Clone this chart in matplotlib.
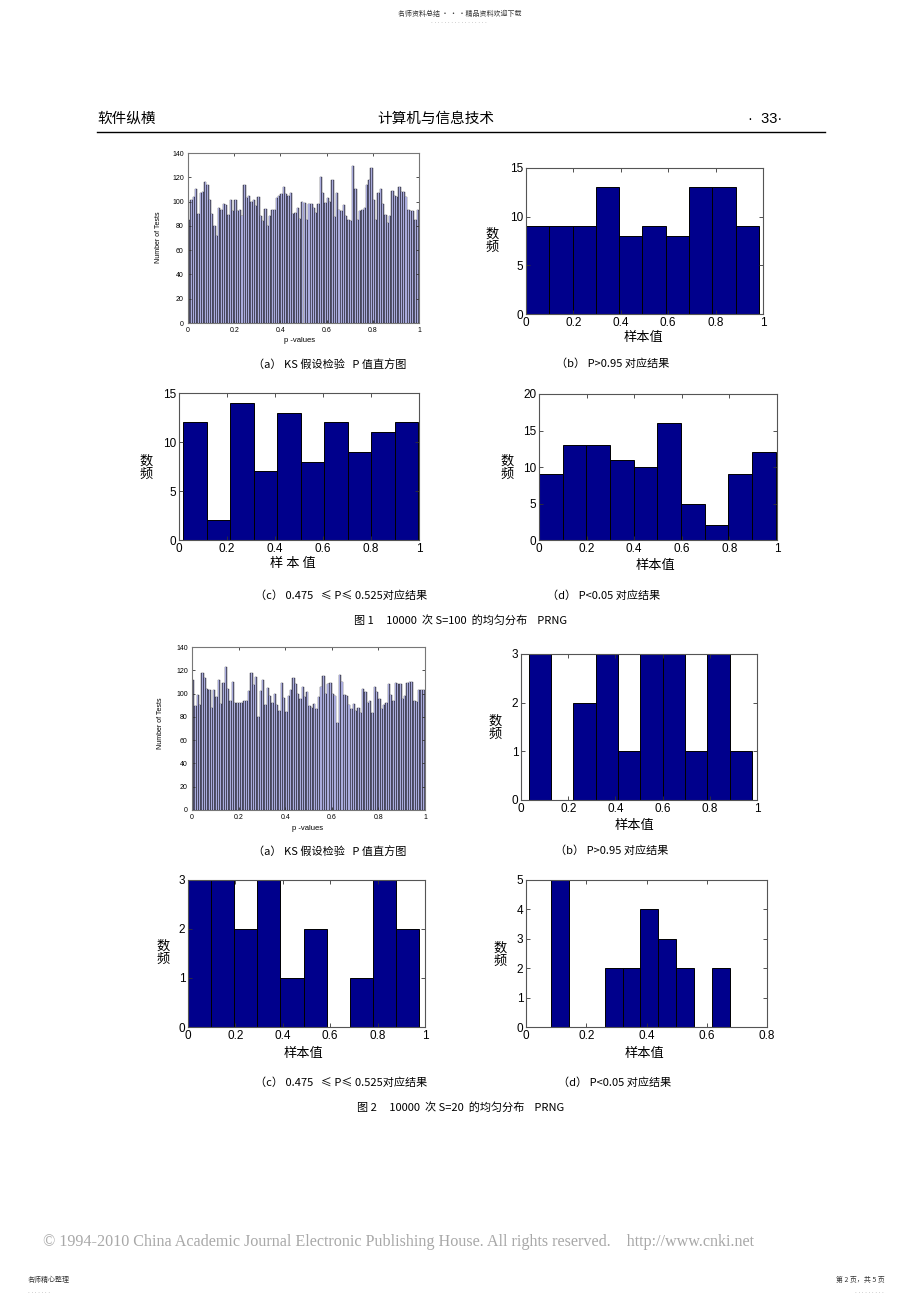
import numpy as np
import matplotlib
matplotlib.use("Agg")
import matplotlib.pyplot as plt

plt.rcParams['font.family'] = ['Liberation Sans', 'Noto Sans CJK SC', 'DejaVu Sans']

W, H = 920, 1304

# ---------------- data ----------------
# Fig.1 (a): 100-bin histogram of KS p-values (S=100)
pv1_counts = [85, 101, 104, 110, 90, 107, 108, 116, 114, 101,
              90, 80, 72, 95, 93, 98, 97, 89, 101, 92,
              101, 92, 93, 88, 114, 103, 105, 100, 101, 96,
              104, 88, 84, 94, 80, 88, 93, 93, 103, 105,
              106, 112, 106, 105, 107, 90, 91, 95, 86, 100,
              99, 85, 98, 98, 95, 91, 98, 120, 107, 99,
              103, 100, 118, 87, 107, 93, 92, 97, 88, 85,
              84, 129, 110, 85, 92, 93, 95, 114, 118, 128,
              101, 85, 107, 110, 98, 89, 82, 88, 109, 105,
              104, 112, 108, 108, 104, 93, 92, 92, 85, 93]
# Fig.2 (a): 100-bin histogram of KS p-values (S=20)
pv2_counts = [112, 89, 99, 90, 118, 113, 104, 103, 88, 103,
              97, 112, 91, 109, 123, 104, 94, 110, 92, 92,
              92, 92, 94, 94, 102, 118, 107, 114, 80, 102,
              112, 90, 105, 98, 92, 100, 90, 85, 109, 96,
              84, 98, 103, 113, 108, 100, 95, 106, 97, 101,
              89, 88, 91, 87, 97, 106, 115, 100, 108, 109,
              100, 98, 75, 116, 110, 99, 98, 90, 87, 91,
              85, 88, 83, 104, 101, 92, 94, 83, 106, 101,
              95, 87, 90, 92, 108, 99, 94, 109, 108, 108,
              95, 98, 109, 110, 110, 94, 93, 103, 103, 103]

# 10-bin histograms of sample values: counts and the sample range (min, max)
f1b_counts = [9, 9, 9, 13, 8, 9, 8, 13, 13, 9]
f1b_range = (0.0, 0.983)
f1c_counts = [12, 2, 14, 7, 13, 8, 12, 9, 11, 12]
f1c_range = (0.018, 0.996)
f1d_counts = [9, 13, 13, 11, 10, 16, 5, 2, 9, 12]
f1d_range = (0.0, 0.994)
f2b_counts = [3, 0, 2, 3, 1, 3, 3, 1, 3, 1]
f2b_range = (0.032, 0.979)
f2c_counts = [3, 3, 2, 3, 1, 2, 0, 1, 3, 2]
f2c_range = (0.0, 0.975)
f2d_counts = [5, 0, 0, 2, 2, 4, 3, 2, 0, 2]
f2d_range = (0.082, 0.678)

captions1 = ["（a） KS 假设检验   P 值直方图", "（b） P>0.95 对应结果",
             "（c） 0.475   ≤ P≤ 0.525对应结果", "（d） P<0.05 对应结果"]
captions2 = captions1
fig1_title = "图 1     10000  次 S=100  的均匀分布    PRNG"
fig2_title = "图 2     10000  次 S=20  的均匀分布    PRNG"

# ---------------- helpers ----------------
fig = plt.figure(figsize=(W / 100, H / 100), dpi=100)


def add_ax(l, t, r, b):
    return fig.add_axes([l / W, 1 - b / H, (r - l) / W, (b - t) / H])


def ftext(x, y, s, **kw):
    fig.text(x / W, 1 - y / H, s, **kw)


def style_axes(ax, lw=0.8, color='#555555', tsize=8.5, tlen=3):
    for sp in ax.spines.values():
        sp.set_linewidth(lw)
        sp.set_color(color)
    ax.tick_params(direction='in', top=True, right=True, length=tlen, width=0.6,
                   labelsize=tsize, pad=2, color='#333333')


def fine_hist(ax, counts):
    n = len(counts)
    edges = np.linspace(0, 1, n + 1)
    w = edges[1] - edges[0]
    ax.bar(edges[:-1], counts, width=w, align='edge', color='#62627e',
           edgecolor='#1e1e2c', linewidth=0.3)
    ax.bar(edges[:-1] + 0.15 * w, counts, width=0.45 * w, align='edge',
           color='#a9abdc', linewidth=0)
    ax.set_xlim(0, 1)
    ax.set_ylim(0, 140)
    ax.set_xticks(np.linspace(0, 1, 6))
    ax.set_xticklabels(['0', '0.2', '0.4', '0.6', '0.8', '1'])
    ax.set_yticks(range(0, 141, 20))
    style_axes(ax, lw=0.8, color='#777777', tsize=5, tlen=2)
    ax.tick_params(pad=3)


def coarse_hist(ax, counts, rng, ylim, yticks, xlim=(0, 1), xticks=None, xlabels=None):
    edges = np.linspace(rng[0], rng[1], len(counts) + 1)
    ax.bar(edges[:-1], counts, width=np.diff(edges), align='edge',
           color='#00008c', edgecolor='black', linewidth=0.7)
    ax.set_xlim(*xlim)
    ax.set_ylim(*ylim)
    if xticks is None:
        xticks = np.linspace(0, 1, 6)
        xlabels = ['0', '0.2', '0.4', '0.6', '0.8', '1']
    ax.set_xticks(xticks)
    ax.set_xticklabels(xlabels)
    ax.set_yticks(yticks)
    style_axes(ax)


cjk = ['Noto Sans CJK SC', 'DejaVu Sans']

# ---------------- header ----------------
ftext(460, 14, "名师资料总结 · · ·精品资料欢迎下载", ha='center', va='center',
      fontsize=5, family=cjk, color='#333333')
ftext(460, 23, "· " * 17, ha='center', va='center', fontsize=4, color='#777777')
ftext(97, 119, "软件纵横", ha='left', va='center', fontsize=10.5, family=cjk)
ftext(436, 119, "计算机与信息技术", ha='center', va='center', fontsize=10.5, family=cjk)
ftext(782, 119, "·  33·", ha='right', va='center', fontsize=10.5)
fig.add_artist(plt.Line2D([97 / W, 825 / W], [1 - 132 / H, 1 - 132 / H],
                          color='black', linewidth=1.0))

# ---------------- Figure 1 ----------------
ax = add_ax(188, 153, 419, 323)
fine_hist(ax, pv1_counts)
ftext(300, 341, "p -values", ha='center', va='center', fontsize=5.5)
ftext(158, 237, "Number of Tests", ha='center', va='center', fontsize=5, rotation=90)

ax = add_ax(526, 168, 763, 314)
coarse_hist(ax, f1b_counts, f1b_range, (0, 15), [0, 5, 10, 15])
ftext(492, 241, "数\n频", ha='center', va='center', fontsize=9.5, family=cjk, linespacing=1.05)
ftext(643, 338, "样本值", ha='center', va='center', fontsize=9.5, family=cjk)

ax = add_ax(179, 393, 419, 540)
coarse_hist(ax, f1c_counts, f1c_range, (0, 15), [0, 5, 10, 15])
ftext(146, 468, "数\n频", ha='center', va='center', fontsize=9.5, family=cjk, linespacing=1.05)
ftext(293, 563, "样 本 值", ha='center', va='center', fontsize=9.5, family=cjk)

ax = add_ax(539, 394, 777, 540)
coarse_hist(ax, f1d_counts, f1d_range, (0, 20), [0, 5, 10, 15, 20])
ftext(507, 468, "数\n频", ha='center', va='center', fontsize=9.5, family=cjk, linespacing=1.05)
ftext(655, 565, "样本值", ha='center', va='center', fontsize=9.5, family=cjk)

ftext(330, 364, captions1[0], ha='center', va='center', fontsize=8, family=cjk)
ftext(613, 364, captions1[1], ha='center', va='center', fontsize=8, family=cjk)
ftext(341, 596, captions1[2], ha='center', va='center', fontsize=8, family=cjk)
ftext(604, 596, captions1[3], ha='center', va='center', fontsize=8, family=cjk)
ftext(461, 620, fig1_title, ha='center', va='center', fontsize=8, family=cjk)

# ---------------- Figure 2 ----------------
ax = add_ax(192, 647, 425, 810)
fine_hist(ax, pv2_counts)
ftext(308, 829, "p -values", ha='center', va='center', fontsize=5.5)
ftext(161, 723, "Number of Tests", ha='center', va='center', fontsize=5, rotation=90)

ax = add_ax(521, 654, 757, 800)
coarse_hist(ax, f2b_counts, f2b_range, (0, 3), [0, 1, 2, 3])
ftext(495, 728, "数\n频", ha='center', va='center', fontsize=9.5, family=cjk, linespacing=1.05)
ftext(634, 825, "样本值", ha='center', va='center', fontsize=9.5, family=cjk)

ax = add_ax(188, 880, 425, 1027)
coarse_hist(ax, f2c_counts, f2c_range, (0, 3), [0, 1, 2, 3])
ftext(163, 953, "数\n频", ha='center', va='center', fontsize=9.5, family=cjk, linespacing=1.05)
ftext(303, 1053, "样本值", ha='center', va='center', fontsize=9.5, family=cjk)

ax = add_ax(526, 880, 767, 1027)
coarse_hist(ax, f2d_counts, f2d_range, (0, 5), [0, 1, 2, 3, 4, 5], xlim=(0, 0.8),
            xticks=[0, 0.2, 0.4, 0.6, 0.8], xlabels=['0', '0.2', '0.4', '0.6', '0.8'])
ftext(500, 955, "数\n频", ha='center', va='center', fontsize=9.5, family=cjk, linespacing=1.05)
ftext(644, 1053, "样本值", ha='center', va='center', fontsize=9.5, family=cjk)

ftext(330, 851, captions2[0], ha='center', va='center', fontsize=8, family=cjk)
ftext(612, 851, captions2[1], ha='center', va='center', fontsize=8, family=cjk)
ftext(341, 1083, captions2[2], ha='center', va='center', fontsize=8, family=cjk)
ftext(615, 1083, captions2[3], ha='center', va='center', fontsize=8, family=cjk)
ftext(461, 1107, fig2_title, ha='center', va='center', fontsize=8, family=cjk)

# ---------------- footer ----------------
ftext(399, 1242, "© 1994-2010 China Academic Journal Electronic Publishing House. All rights reserved.    http://www.cnki.net",
      ha='center', va='center', fontsize=11.6, family=['Liberation Serif', 'DejaVu Serif'],
      color='#a8a8a8')
ftext(28, 1280, "名师精心整理", ha='left', va='center', fontsize=5, family=cjk, color='#333333')
ftext(28, 1292, "· " * 7, ha='left', va='center', fontsize=4, color='#777777')
ftext(885, 1280, "第 2 页，共 5 页", ha='right', va='center', fontsize=5, family=cjk, color='#333333')
ftext(885, 1292, "· " * 9, ha='right', va='center', fontsize=4, color='#777777')

fig.savefig("out.png", dpi=100)
